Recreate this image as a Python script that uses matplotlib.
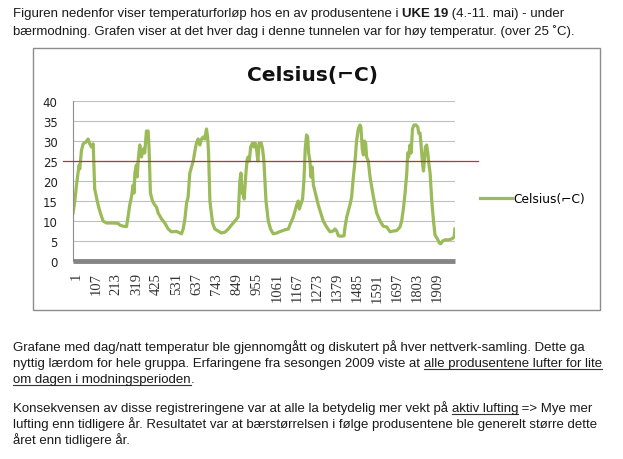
import matplotlib
import matplotlib.pyplot as plt
import matplotlib.transforms as mtransforms
from matplotlib.lines import Line2D
from matplotlib.patches import Rectangle

matplotlib.use("Agg")

W, H = 623, 460
BODY_FONT = "Liberation Sans"
BODY_SIZE = 9.5

# temperature readings (5-minute samples, 4.-11. mai)
sample_no = [
	1, 10, 19, 27, 33, 36, 45, 54, 68, 80, 89, 98, 107, 115, 133, 145, 159, 177, 212, 239,
	247, 265, 283, 291, 300, 309, 318, 323, 327, 335, 339, 346, 353, 362, 371, 379, 388, 397, 402, 409,
	420, 432, 441, 450, 468, 485, 503, 520, 547, 564, 573, 582, 591, 600, 608, 617, 635, 644, 652, 661,
	670, 679, 688, 696, 705, 711, 716, 723, 737, 749, 767, 784, 802, 820, 837, 855, 872, 881, 887, 894,
	899, 904, 913, 920, 925, 931, 938, 948, 955, 962, 969, 976, 983, 994, 1001, 1008, 1019, 1031, 1043, 1057,
	1075, 1101, 1119, 1137, 1145, 1163, 1181, 1189, 1195, 1202, 1212, 1219, 1226, 1233, 1239, 1244, 1251, 1256, 1263, 1269,
	1277, 1295, 1321, 1339, 1357, 1374, 1383, 1392, 1401, 1418, 1431, 1436, 1445, 1462, 1471, 1480, 1489, 1497, 1506, 1515,
	1520, 1527, 1533, 1538, 1545, 1550, 1559, 1568, 1586, 1603, 1621, 1638, 1656, 1674, 1691, 1709, 1726, 1735, 1744, 1753,
	1762, 1767, 1772, 1779, 1785, 1792, 1800, 1811, 1820, 1825, 1832, 1839, 1846, 1850, 1855, 1860, 1867, 1873, 1878, 1885,
	1894, 1903, 1911, 1924, 1934, 1941, 1952, 1964, 1982, 1999, 2012, 2016,
]
celsius = [
	12, 15, 19, 22, 24, 23, 27.6, 29.3, 29.7, 30.5, 29.3, 28.5, 29.3, 18, 14, 12, 10, 9.5, 9.5, 9.4,
	9, 8.7, 8.6, 11, 14, 16, 19, 17, 22, 24, 21, 26, 29, 26, 28, 27, 32.5, 32.5, 28, 17,
	15, 14, 13.5, 12, 10.5, 9.5, 8, 7.3, 7.4, 7, 6.8, 8, 10.5, 14.5, 16, 22, 25, 27.5, 29.5, 30.5,
	29, 30.5, 31, 30.5, 33, 31, 27, 15, 9.5, 8, 7.5, 7, 7.2, 8, 9, 10, 11, 20, 22, 17,
	16.5, 15.5, 22, 25.5, 26, 25, 28.5, 29.5, 28.5, 29.5, 28, 25, 29.5, 29.5, 28, 25, 15, 10, 8, 6.8,
	7, 7.5, 7.8, 8, 9, 11, 14, 15, 13, 14, 15.5, 20, 28, 31.5, 31, 27, 25, 21, 23.5, 19,
	17.5, 14, 10, 8.5, 7.3, 7.5, 8, 7.5, 6.3, 6.2, 6.3, 8.5, 11, 14, 16, 21, 25, 30, 33, 34,
	33.5, 28, 26.5, 30, 29.5, 26, 25, 21, 16, 12, 10, 8.7, 8.5, 7.3, 7.5, 7.6, 8.5, 10, 13, 17,
	22, 27, 26, 29, 27, 33, 34, 34, 33.5, 32, 32, 28, 24, 22.5, 25, 28.5, 29, 27, 24.5, 22,
	15, 10, 6.5, 5.5, 4.5, 4.3, 5, 5.3, 5.3, 5.5, 6, 8,
]
tick_samples = [1, 107, 213, 319, 425, 531, 637, 743, 849, 955, 1061, 1167, 1273, 1379, 1485, 1591, 1697, 1803, 1909]
y_ticks = [0, 5, 10, 15, 20, 25, 30, 35, 40]
threshold = 25
series_name = "Celsius(\u2310C)"

top_lines = [
	[("Figuren nedenfor viser temperaturforløp hos en av produsentene i ", False, False),
	 ("UKE 19", True, False), (" (4.-11. mai) - under", False, False)],
	[("bærmodning. Grafen viser at det hver dag i denne tunnelen var for høy temperatur. (over 25 \u02daC).", False, False)],
]
bottom_lines = [
	[("Grafane med dag/natt temperatur ble gjennomgått og diskutert på hver nettverk-samling. Dette ga", False, False)],
	[("nyttig lærdom for hele gruppa. Erfaringene fra sesongen 2009 viste at ", False, False),
	 ("alle produsentene lufter for lite", False, True)],
	[("om dagen i modningsperioden", False, True), (".", False, False)],
	[("Konsekvensen av disse registreringene var at alle la betydelig mer vekt på ", False, False),
	 ("aktiv lufting", False, True), (" => Mye mer", False, False)],
	[("lufting enn tidligere år. Resultatet var at bærstørrelsen i følge produsentene ble generelt større dette", False, False)],
	[("året enn tidligere år.", False, False)],
]


def text_width(fig, renderer, text, props):
	probe = fig.text(0, 0, text + "|", **props)
	bar = fig.text(0, 0, "|", **props)
	width = probe.get_window_extent(renderer).width - bar.get_window_extent(renderer).width
	probe.remove()
	bar.remove()
	return width


def draw_runs(fig, renderer, x, y, runs):
	for text, bold, underline in runs:
		props = dict(fontsize=BODY_SIZE, family=BODY_FONT, fontweight="bold" if bold else "normal", color="#1a1a1a")
		fig.text(x / W, 1 - y / H, text, ha="left", va="baseline", **props)
		width = text_width(fig, renderer, text, props)
		if underline:
			fig.add_artist(Line2D([x / W, (x + width) / W], [1 - (y + 2.5) / H] * 2, lw=0.8, color="#333333"))
		x += width


fig = plt.figure(figsize=(W / 100, H / 100), dpi=100)
fig.patch.set_facecolor("white")
renderer = fig.canvas.get_renderer()

for row, runs in zip([17, 35], top_lines):
	draw_runs(fig, renderer, 13, row, runs)
for row, runs in zip([351, 367, 383, 412, 428, 444], bottom_lines):
	draw_runs(fig, renderer, 13, row, runs)

# chart frame
fig.add_artist(Rectangle((33 / W, 1 - 311 / H), (600 - 33) / W, (311 - 49) / H, transform=fig.transFigure,
	fill=False, edgecolor="#8c8c8c", lw=1))

ax = fig.add_axes([73 / W, 1 - 262 / H, (455 - 73) / W, (262 - 102) / H])
ax.plot(sample_no, celsius, color="#9bbb59", lw=2.3, label=series_name, solid_joinstyle="round")
ax.axhline(threshold, xmin=-0.026, xmax=1.06, color="#c8302c", lw=0.9, clip_on=False, zorder=5)

ax.set_xlim(0.5, 2016.5)
ax.set_ylim(0, 40)
ax.set_yticks(y_ticks)
ax.set_xticks(tick_samples)
ax.set_xticklabels([str(t) for t in tick_samples], rotation=90, family="Liberation Serif", fontsize=10.5, color="#333333")
ax.tick_params(axis="x", length=0, pad=8)
ax.tick_params(axis="y", length=0, pad=11, labelsize=8.5, labelcolor="#222222")
for label in ax.get_xticklabels():
	label.set_transform(label.get_transform() + mtransforms.ScaledTranslation(3 / 100, 0, fig.dpi_scale_trans))
ax.grid(axis="y", color="#c0c0c0", lw=0.8)
ax.set_axisbelow(True)
for side in ["top", "right"]:
	ax.spines[side].set_visible(False)
ax.spines["left"].set_color("#8c8c8c")
ax.spines["bottom"].set_color("#858585")
ax.spines["bottom"].set_linewidth(3.5)
ax.spines["bottom"].set_capstyle("butt")

fig.text(312 / W, 1 - 75 / H, series_name, ha="center", va="center", fontsize=14.5, fontweight="bold", color="#111111")
ax.legend(loc="center left", bbox_to_anchor=(480 / W, 1 - 200 / H), bbox_transform=fig.transFigure,
	frameon=False, fontsize=8.8, handlelength=2.6, handletextpad=0.15, borderpad=0, borderaxespad=0)

fig.savefig("out.png", dpi=100, facecolor="white")
